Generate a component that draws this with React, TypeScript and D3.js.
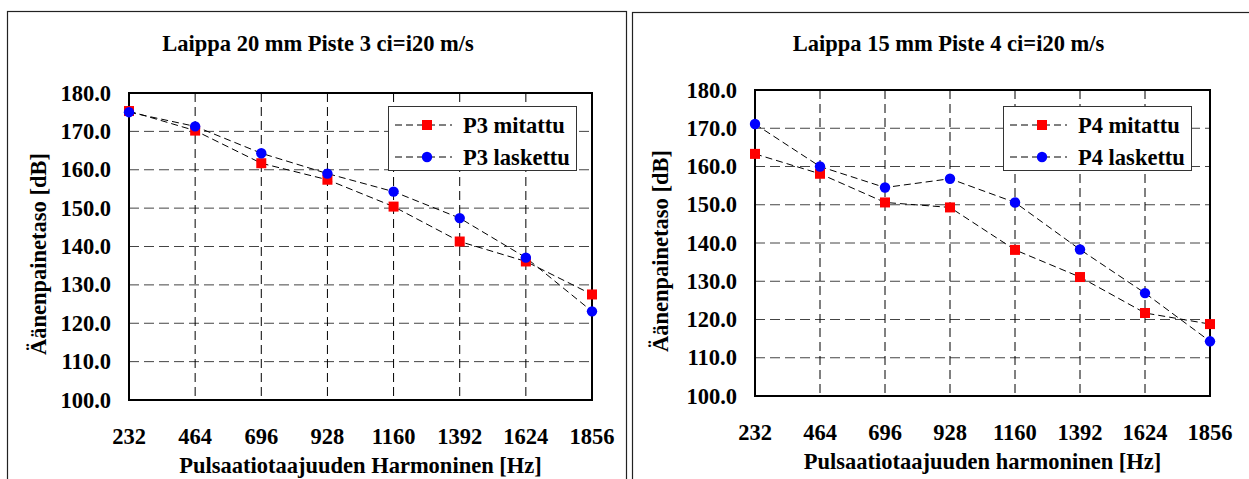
import React, { useEffect, useRef } from "react";
import * as d3 from "d3";

// Harmonics of the pulsation frequency (x categories)
const harmonics = ["232", "464", "696", "928", "1160", "1392", "1624", "1856"];
const yTicks = [100, 110, 120, 130, 140, 150, 160, 170, 180];

// Left chart: Laippa 20 mm, Piste 3
const p3Mitattu = [175.3, 170.2, 161.7, 157.4, 150.4, 141.3, 136.1, 127.5];
const p3Laskettu = [175.0, 171.3, 164.3, 159.0, 154.3, 147.4, 137.1, 123.1];

// Right chart: Laippa 15 mm, Piste 4
const p4Mitattu = [163.3, 158.1, 150.6, 149.3, 138.2, 131.1, 121.7, 118.8];
const p4Laskettu = [171.1, 160.0, 154.5, 156.8, 150.6, 138.3, 126.9, 114.3];

const FONT = "'Liberation Serif', 'Times New Roman', serif";
const FS = 22.5;

type Panel = {
  frame: { x: number; y: number; w: number };
  plot: { left: number; right: number; top: number; bottom: number };
  title: string;
  xTitle: string;
  yTitleX: number;
  yTitleY: number;
  legendX: number;
  measured: number[];
  computed: number[];
  names: [string, string];
};

const panels: Panel[] = [
  {
    frame: { x: 7.5, y: 11.5, w: 619 },
    plot: { left: 129, right: 592, top: 93, bottom: 400 },
    title: "Laippa 20 mm Piste 3 ci=i20 m/s",
    xTitle: "Pulsaatiotaajuuden Harmoninen [Hz]",
    yTitleX: 46,
    yTitleY: 254,
    legendX: 388,
    measured: p3Mitattu,
    computed: p3Laskettu,
    names: ["P3 mitattu", "P3 laskettu"],
  },
  {
    frame: { x: 632.5, y: 12.5, w: 630 },
    plot: { left: 755, right: 1210, top: 90, bottom: 396 },
    title: "Laippa 15 mm Piste 4 ci=i20 m/s",
    xTitle: "Pulsaatiotaajuuden harmoninen [Hz]",
    yTitleX: 668,
    yTitleY: 251,
    legendX: 1003,
    measured: p4Mitattu,
    computed: p4Laskettu,
    names: ["P4 mitattu", "P4 laskettu"],
  },
];

function drawPanel(svg: d3.Selection<SVGSVGElement, unknown, null, undefined>, p: Panel) {
  const g = svg.append("g").attr("font-family", FONT).attr("font-weight", "bold");
  const { left, right, top, bottom } = p.plot;

  // outer frame (bottom is cut off by the picture)
  g.append("rect")
    .attr("x", p.frame.x)
    .attr("y", p.frame.y)
    .attr("width", p.frame.w)
    .attr("height", 500)
    .attr("fill", "white")
    .attr("stroke", "#222")
    .attr("stroke-width", 1.2);

  const x = d3.scalePoint<string>().domain(harmonics).range([left, right]);
  const y = d3.scaleLinear().domain([100, 180]).range([bottom, top]);

  // title
  g.append("text")
    .attr("x", p.frame.x + p.frame.w / 2 + 1)
    .attr("y", 51)
    .attr("text-anchor", "middle")
    .attr("font-size", FS)
    .text(p.title);

  // horizontal grid
  g.selectAll(".hgrid")
    .data(yTicks.slice(1, -1))
    .join("line")
    .attr("x1", left)
    .attr("x2", right)
    .attr("y1", (d) => y(d))
    .attr("y2", (d) => y(d))
    .attr("stroke", "#444")
    .attr("stroke-width", 1)
    .attr("stroke-dasharray", "10,5");

  // vertical grid
  g.selectAll(".vgrid")
    .data(harmonics.slice(1, -1))
    .join("line")
    .attr("x1", (d) => x(d)!)
    .attr("x2", (d) => x(d)!)
    .attr("y1", top)
    .attr("y2", bottom)
    .attr("stroke", "#000")
    .attr("stroke-width", 1)
    .attr("stroke-dasharray", "9,5");

  // plot border
  g.append("rect")
    .attr("x", left)
    .attr("y", top)
    .attr("width", right - left)
    .attr("height", bottom - top)
    .attr("fill", "none")
    .attr("stroke", "#000")
    .attr("stroke-width", 2);

  // y tick labels
  g.selectAll(".ylab")
    .data(yTicks)
    .join("text")
    .attr("x", left - 18)
    .attr("y", (d) => y(d) + 7.5)
    .attr("text-anchor", "end")
    .attr("font-size", FS)
    .text((d) => d.toFixed(1));

  // x tick labels
  g.selectAll(".xlab")
    .data(harmonics)
    .join("text")
    .attr("x", (d) => x(d)!)
    .attr("y", bottom + 44)
    .attr("text-anchor", "middle")
    .attr("font-size", FS)
    .text((d) => d);

  // axis titles
  g.append("text")
    .attr("x", (left + right) / 2)
    .attr("y", bottom + 73)
    .attr("text-anchor", "middle")
    .attr("font-size", FS)
    .text(p.xTitle);

  g.append("text")
    .attr("transform", `translate(${p.yTitleX},${p.yTitleY}) rotate(-90)`)
    .attr("text-anchor", "middle")
    .attr("font-size", FS)
    .text("Äänenpainetaso [dB]");

  // series
  const line = d3
    .line<number>()
    .x((_, i) => x(harmonics[i])!)
    .y((d) => y(d));

  [p.measured, p.computed].forEach((vals) => {
    g.append("path")
      .attr("d", line(vals))
      .attr("fill", "none")
      .attr("stroke", "#000")
      .attr("stroke-width", 1)
      .attr("stroke-dasharray", "7,4");
  });

  g.selectAll(".sq")
    .data(p.measured)
    .join("rect")
    .attr("x", (_, i) => x(harmonics[i])! - 5)
    .attr("y", (d) => y(d) - 5)
    .attr("width", 10)
    .attr("height", 10)
    .attr("fill", "#ff0000");

  g.selectAll(".dot")
    .data(p.computed)
    .join("circle")
    .attr("cx", (_, i) => x(harmonics[i])!)
    .attr("cy", (d) => y(d))
    .attr("r", 5.2)
    .attr("fill", "#0000ff");

  // legend
  const lx = p.legendX;
  g.append("rect")
    .attr("x", lx + 0.5)
    .attr("y", 106.5)
    .attr("width", 188)
    .attr("height", 64)
    .attr("fill", "white")
    .attr("stroke", "#333")
    .attr("stroke-width", 1);

  const rows = [125, 157];
  rows.forEach((ry, i) => {
    g.append("line")
      .attr("x1", lx + 7)
      .attr("x2", lx + 64)
      .attr("y1", ry)
      .attr("y2", ry)
      .attr("stroke", "#000")
      .attr("stroke-width", 1)
      .attr("stroke-dasharray", "7,4");
    if (i === 0) {
      g.append("rect")
        .attr("x", lx + 34)
        .attr("y", ry - 5)
        .attr("width", 10)
        .attr("height", 10)
        .attr("fill", "#ff0000");
    } else {
      g.append("circle")
        .attr("cx", lx + 39)
        .attr("cy", ry)
        .attr("r", 5.2)
        .attr("fill", "#0000ff");
    }
    g.append("text")
      .attr("x", lx + 75)
      .attr("y", ry + 7.5)
      .attr("font-size", FS)
      .text(p.names[i]);
  });
}

export default function App() {
  const ref = useRef<SVGSVGElement>(null);

  useEffect(() => {
    const svg = d3.select(ref.current as SVGSVGElement);
    svg.selectAll("*").remove();
    panels.forEach((p) => drawPanel(svg, p));
  }, []);

  return (
    <svg
      ref={ref}
      width={1249}
      height={479}
      style={{ position: "absolute", left: 0, top: 0, background: "white" }}
    />
  );
}
